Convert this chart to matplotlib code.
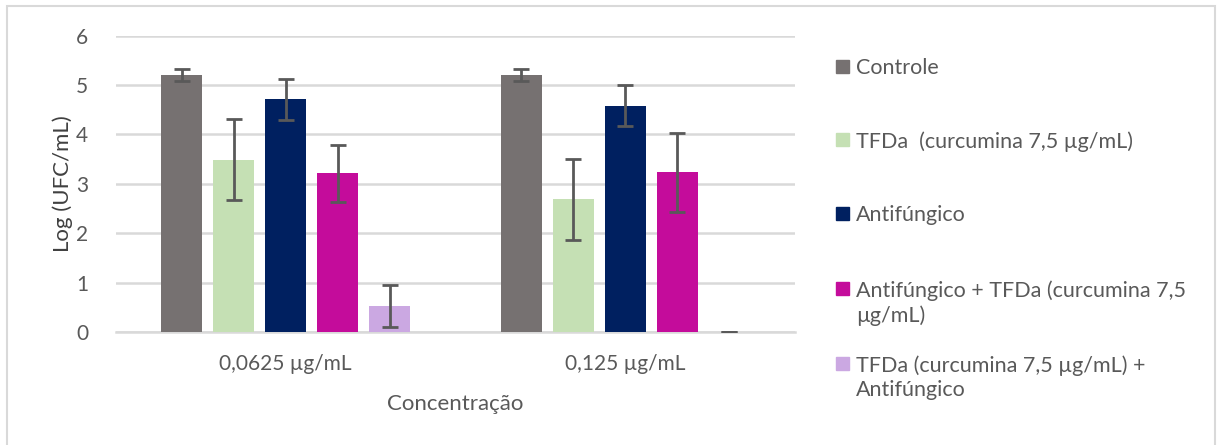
import matplotlib.pyplot as plt
import numpy as np
from matplotlib.patches import Rectangle

plt.rcParams['font.family'] = ['Lato', 'DejaVu Sans']

concentrations = ["0,0625 µg/mL", "0,125 µg/mL"]
series_names = [
    "Controle",
    "TFDa  (curcumina 7,5 µg/mL)",
    "Antifúngico",
    "Antifúngico + TFDa (curcumina 7,5\nµg/mL)",
    "TFDa (curcumina 7,5 µg/mL) +\nAntifúngico",
]
series_colors = ["#767171", "#C5E0B4", "#002060", "#C40C9B", "#CBA8E2"]

# mean log(UFC/mL) per concentration, one list per treatment
controle = [5.21, 5.21]
tfda = [3.49, 2.69]
antifungico = [4.71, 4.58]
antif_tfda = [3.21, 3.23]
tfda_antif = [0.53, 0.0]

# standard deviations
controle_err = [0.12, 0.12]
tfda_err = [0.82, 0.82]
antifungico_err = [0.41, 0.41]
antif_tfda_err = [0.58, 0.80]
tfda_antif_err = [0.42, 0.0]

means = [controle, tfda, antifungico, antif_tfda, tfda_antif]
errors = [controle_err, tfda_err, antifungico_err, antif_tfda_err, tfda_antif_err]

text_color = "#595959"
grid_color = "#D9D9D9"

fig = plt.figure(figsize=(12.17, 4.45), dpi=100)
ax = fig.add_axes([0.0953, 0.254, 0.558, 0.666])

x = np.arange(len(concentrations))
width = 0.121
step = 0.153
for i, (vals, errs, col) in enumerate(zip(means, errors, series_colors)):
    offset = (i - 2) * step
    ax.bar(x + offset, vals, width, color=col, zorder=3)
    ax.errorbar(x + offset, vals, yerr=errs, fmt="none", ecolor="#595959",
                elinewidth=2, capsize=5.5, capthick=2, zorder=4)

ax.set_xlim(-0.5, 1.5)
ax.set_ylim(0, 6)
ax.set_yticks(range(0, 7))
ax.set_xticks(x)
ax.set_xticklabels(concentrations)
ax.yaxis.grid(True, color=grid_color, linewidth=1.8, zorder=0)
ax.set_axisbelow(True)
for side in ["top", "right", "left"]:
    ax.spines[side].set_visible(False)
ax.spines["bottom"].set_color(grid_color)
ax.spines["bottom"].set_linewidth(1.8)
ax.tick_params(axis="both", length=0, labelsize=15, labelcolor=text_color)
ax.tick_params(axis="y", pad=20)
ax.tick_params(axis="x", pad=16)
ax.set_ylabel("Log (UFC/mL)", fontsize=16, color="#404040", labelpad=2)
ax.set_xlabel("Concentração", fontsize=16, color=text_color, labelpad=14)

# legend drawn by hand so markers line up with the first text line
fig_w, fig_h = 1217, 445
legend_rows = [66, 139, 213, 288, 363]
for name, col, row in zip(series_names, series_colors, legend_rows):
    fig.patches.append(Rectangle((836 / fig_w, 1 - (row + 7) / fig_h), 13 / fig_w, 13 / fig_h,
                                 transform=fig.transFigure, color=col, figure=fig))
    fig.text(856 / fig_w, 1 - (row - 8) / fig_h, name, fontsize=15.5, color=text_color,
             va="top", ha="left", linespacing=1.3)

# light frame round the chart
fig.patches.append(Rectangle((7 / fig_w, -0.05), 1208 / fig_w, 1.05 - 6 / fig_h,
                             transform=fig.transFigure, fill=False,
                             edgecolor="#D9D9D9", linewidth=1.5, figure=fig))

fig.savefig("out.png", dpi=100)
